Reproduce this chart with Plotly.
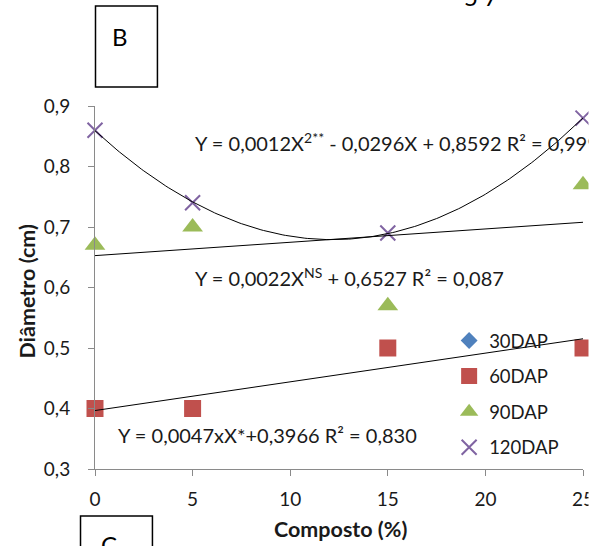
import numpy as np
import plotly.graph_objects as go

# ---- data ----
composto = [0, 5, 15, 25]
dap30 = [None, None, None, None]
dap60 = [0.40, 0.40, 0.50, 0.50]
dap90 = [0.67, 0.70, 0.57, 0.77]
dap120 = [0.86, 0.74, 0.69, 0.88]
x_ticks = [0, 5, 10, 15, 20, 25]
y_ticks = [0.3, 0.4, 0.5, 0.6, 0.7, 0.8, 0.9]
y_ticklabels = ["0,3", "0,4", "0,5", "0,6", "0,7", "0,8", "0,9"]

eq120 = "Y = 0,0012X<sup>2**</sup> - 0,0296X + 0,8592 R² = 0,999"
eq90 = "Y = 0,0022X<sup>NS</sup> + 0,6527 R² = 0,087"
eq60 = "Y = 0,0047xX*+0,3966 R² = 0,830"

# ---- layout geometry (pixels) ----
W, H = 603, 546
L, R, T, B = 94.5, 20, 106, 77
PW, PH = W - L - R, H - T - B


def px(x):
    return (x - L) / PW


def py(y):
    return (H - B - y) / PH


FONT = "Lato"
TXT = "#1a1a1a"
AX = "#8a8a8a"

fig = go.Figure()

fig.add_trace(go.Scatter(x=composto, y=dap30, mode="markers", name="30DAP",
                         legendgroup="a",
                         marker=dict(symbol="diamond", size=13, color="#4f81bd"),
                         cliponaxis=False))
fig.add_trace(go.Scatter(x=composto, y=dap60, mode="markers", name="60DAP",
                         legendgroup="b",
                         marker=dict(symbol="square", size=17, color="#c0504d"),
                         cliponaxis=False))
fig.add_trace(go.Scatter(x=composto, y=dap90, mode="markers", name="90DAP",
                         legendgroup="c",
                         marker=dict(symbol="triangle-up", size=18, color="#9bbb59"),
                         cliponaxis=False))
fig.add_trace(go.Scatter(x=composto, y=dap120, mode="markers", name="120DAP",
                         legendgroup="d",
                         marker=dict(symbol="x-thin", size=15, color="#8064a2",
                                     line=dict(width=2, color="#8064a2")),
                         cliponaxis=False))

# trend lines (fitted from the data)
xs = np.linspace(0, 25, 201)
for series, deg in [(dap60, 1), (dap90, 1), (dap120, 2)]:
    c = np.polyfit(composto, series, deg)
    fig.add_trace(go.Scatter(x=xs, y=np.polyval(c, xs), mode="lines",
                             line=dict(color="black", width=1),
                             showlegend=False, hoverinfo="skip",
                             cliponaxis=False))

axis_common = dict(showline=True, linecolor=AX, linewidth=1, ticks="outside",
                   ticklen=6, tickcolor=AX, showgrid=False, zeroline=False,
                   tickfont=dict(family=FONT, size=19, color=TXT))

fig.update_xaxes(range=[0, 25], tickvals=x_ticks, ticktext=[str(v) for v in x_ticks],
                 ticklabelstandoff=7, **axis_common)
fig.update_yaxes(range=[0.3, 0.9], tickvals=y_ticks, ticktext=y_ticklabels,
                 ticklabelstandoff=14, **axis_common)

ann = []
# equations
ann.append(dict(text=eq120, x=px(193), y=py(142), xanchor="left", yanchor="middle"))
ann.append(dict(text=eq90, x=px(193), y=py(277), xanchor="left", yanchor="middle"))
ann.append(dict(text=eq60, x=px(116), y=py(435), xanchor="left", yanchor="middle"))
for a in ann:
    a.update(xref="paper", yref="paper", showarrow=False,
             font=dict(family=FONT, size=20, color=TXT))

# axis titles
ann.append(dict(text="<b>Diâmetro (cm)</b>", x=px(26), y=py(292), textangle=-90,
                xref="paper", yref="paper", showarrow=False,
                xanchor="center", yanchor="middle",
                font=dict(family=FONT, size=21.5, color=TXT)))
ann.append(dict(text="<b>Composto (%)</b>", x=px(340), y=py(529),
                xref="paper", yref="paper", showarrow=False,
                xanchor="center", yanchor="middle",
                font=dict(family=FONT, size=21.5, color=TXT)))
# panel labels
ann.append(dict(text="B", x=px(120), y=py(36), xref="paper", yref="paper",
                showarrow=False, xanchor="center", yanchor="middle",
                font=dict(family=FONT, size=24, color="black")))
ann.append(dict(text="C", x=px(109), y=py(544), xref="paper", yref="paper",
                showarrow=False, xanchor="center", yanchor="middle",
                font=dict(family=FONT, size=24, color="black")))
ann.append(dict(text="5 7", x=px(481), y=py(-3), xref="paper", yref="paper",
                showarrow=False, xanchor="center", yanchor="middle",
                font=dict(family=FONT, size=24, color="black")))
# white cover for the cropped right edge
ann.append(dict(text=" ", x=px(588), y=py(273), xref="paper", yref="paper",
                showarrow=False, xanchor="left", yanchor="middle",
                width=30, height=600, bgcolor="white", borderpad=0))

shapes = [
    dict(type="rect", xref="paper", yref="paper", x0=px(95), x1=px(157),
         y0=py(6), y1=py(87), line=dict(color="black", width=1.5),
         fillcolor="rgba(0,0,0,0)"),
    dict(type="rect", xref="paper", yref="paper", x0=px(80), x1=px(152),
         y0=py(516), y1=py(560), line=dict(color="black", width=1.5),
         fillcolor="rgba(0,0,0,0)"),
]

fig.update_layout(
    width=W, height=H, autosize=False,
    margin=dict(l=L, r=R, t=T, b=B, autoexpand=False),
    paper_bgcolor="white", plot_bgcolor="white",
    showlegend=True,
    legend=dict(x=px(449), y=py(322), xanchor="left", yanchor="top",
                traceorder="grouped", tracegroupgap=8.5,
                font=dict(family=FONT, size=18.5, color=TXT),
                bgcolor="rgba(0,0,0,0)", borderwidth=0, itemwidth=30),
    annotations=ann, shapes=shapes,
)

fig.write_html("out.html")
